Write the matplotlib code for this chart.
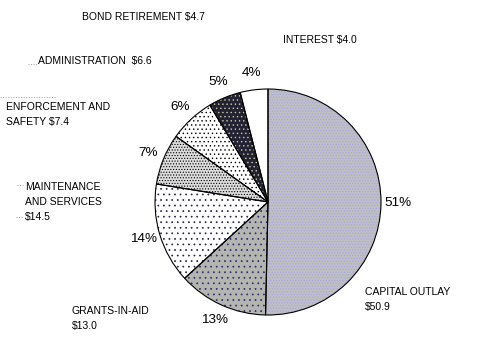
import matplotlib
matplotlib.use("Agg")
import matplotlib.pyplot as plt

# ---- data (clockwise from 12 o'clock) ----
categories = ["CAPITAL OUTLAY", "GRANTS-IN-AID", "MAINTENANCE AND SERVICES",
              "ENFORCEMENT AND SAFETY", "ADMINISTRATION", "BOND RETIREMENT", "INTEREST"]
values = [50.9, 13.0, 14.5, 7.4, 6.6, 4.7, 4.0]
pct_labels = ["51%", "13%", "14%", "7%", "6%", "5%", "4%"]
cat_labels = [
    ["CAPITAL OUTLAY", "$50.9"],
    ["GRANTS-IN-AID", "$13.0"],
    ["MAINTENANCE", "AND SERVICES", "$14.5"],
    ["ENFORCEMENT AND", "SAFETY $7.4"],
    ["ADMINISTRATION  $6.6"],
    ["BOND RETIREMENT $4.7"],
    ["INTEREST $4.0"],
]

# ---- styling ----
face_colors = ["#bebec4", "#b4b4b0", "#ffffff", "#dcdcdc", "#ffffff", "#222232", "#ffffff"]
hatch_colors = ["#a6a6e4", "#2a2a70", "#202040", "#000000", "#000000", "#c8c8a8", "#ffffff"]
hatches = ["......", "...", "...", "......", "....", "....", ""]
# label anchor positions (pixel coords, left x, top-line center y)
label_pos = [(365, 292), (72, 311), (25, 187), (6, 107), (38, 61), (82, 17), (283, 40)]

W, H = 500, 340
plt.rcParams['font.family'] = ['Liberation Sans', 'DejaVu Sans']
plt.rcParams['hatch.linewidth'] = 0.5

fig = plt.figure(figsize=(W / 100, H / 100), dpi=100)
ax = fig.add_axes([0, 0, 1, 1])

center = (268, H - 202)
radius = 113

pit = iter(pct_labels)
wedges, _, autotexts = ax.pie(values, startangle=90, counterclock=False,
                              center=center, radius=radius, frame=True,
                              autopct=lambda p: next(pit), pctdistance=1.15,
                              wedgeprops=dict(linewidth=0))
for w, fc, hc, h in zip(wedges, face_colors, hatch_colors, hatches):
    w.set_facecolor(fc)
    w.set_edgecolor(hc)
    w.set_hatch(h)
    w.set_linewidth(0)
for t in autotexts:
    t.set_fontsize(9.7)
    t.set_color('black')

outline, _ = ax.pie(values, startangle=90, counterclock=False,
                    center=center, radius=radius, frame=True,
                    wedgeprops=dict(facecolor='none', edgecolor='black', linewidth=0.8))

ax.set_xlim(0, W)
ax.set_ylim(0, H)
ax.axis('off')
ax.set_aspect('auto')

for lines, (x, y) in zip(cat_labels, label_pos):
    for i, line in enumerate(lines):
        ax.text(x, H - (y + 15 * i), line, fontsize=7.5, ha='left', va='center')

# faint dotted leader fragments
g = '#a0a0a0'
ax.plot([0, 55], [H - 97, H - 97], ls=':', color=g, lw=0.7)
ax.plot([28, 37], [H - 64, H - 64], ls=':', color=g, lw=0.7)
ax.plot([17, 23], [H - 185, H - 185], ls=':', color=g, lw=0.7)
ax.plot([16, 23], [H - 217, H - 217], ls=':', color=g, lw=0.7)

fig.savefig("out.png", dpi=100)
